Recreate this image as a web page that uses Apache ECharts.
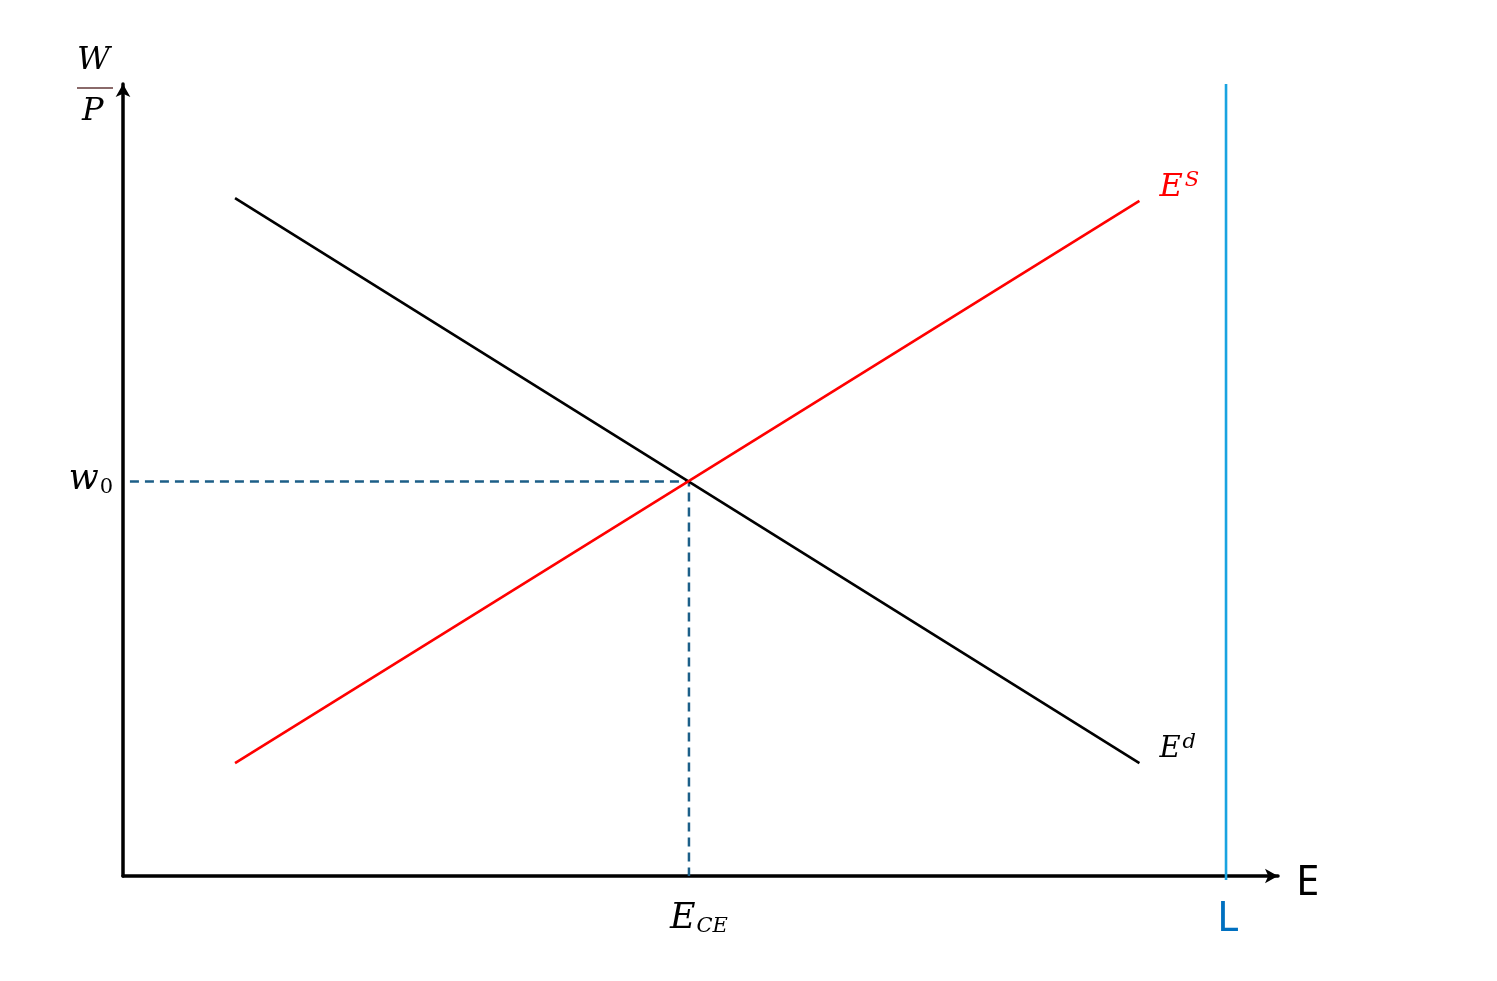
<!DOCTYPE html>
<html><head><meta charset="utf-8">
<script src="https://cdn.jsdelivr.net/npm/echarts@6/dist/echarts.min.js"></script>
<style>html,body{margin:0;padding:0;background:#fff}#c{width:1497px;height:981px}</style>
</head><body><div id="c"></div>
<script>
// Data (x: employment units 0-100, y: real wage units 0-100)
const demandCurve = [[9.7, 85.6], [88, 14.25]];
const supplyCurve = [[9.7, 14.25], [88, 85.25]];
const equilibrium = [49, 49.8];
const laborForce = 95.5;
const guidePath = [[0.6, 49.8], [49, 49.8], [49, 0]];
const laborLine = [[95.5, -0.5], [95.5, 100]];

const serif = 'DejaVu Serif';
const chart = echarts.init(document.getElementById('c'));
chart.setOption({
  animation: false,
  grid: { left: 123, top: 84, width: 1155, height: 792 },
  xAxis: {
    type: 'value', min: 0, max: 100,
    splitLine: { show: false }, axisTick: { show: false }, axisLabel: { show: false },
    axisLine: { lineStyle: { color: '#000', width: 3.5 }, symbol: ['none', 'arrow'], symbolSize: [11, 13] },
    name: 'E', nameLocation: 'end', nameGap: 18,
    nameTextStyle: { fontFamily: 'Noto Sans', fontSize: 42, color: '#000', verticalAlign: 'top', lineHeight: 14 }
  },
  yAxis: {
    type: 'value', min: 0, max: 100,
    splitLine: { show: false }, axisTick: { show: false }, axisLabel: { show: false },
    axisLine: { lineStyle: { color: '#000', width: 3.5 }, symbol: ['none', 'arrow'], symbolSize: [11, 13] }
  },
  graphic: [
    { type: 'text', left: 77, top: 45, style: { text: 'W', font: 'italic 32px "DejaVu Serif"', fill: '#000' } },
    { type: 'line', shape: { x1: 77, y1: 88, x2: 113, y2: 88 }, style: { stroke: '#8a6a6a', lineWidth: 2 } },
    { type: 'text', left: 82, top: 96, style: { text: 'P', font: 'italic 32px "DejaVu Serif"', fill: '#000' } }
  ],
  series: [
    {
      type: 'line', data: guidePath, symbol: 'none', silent: true,
      lineStyle: { color: '#1c5f88', width: 2.5, type: [9, 6] }
    },
    {
      type: 'line', data: demandCurve, symbol: 'none', silent: true,
      lineStyle: { color: '#000', width: 2.6 },
      endLabel: {
        show: true, distance: 20, offset: [0, -14], color: '#000',
        formatter: '{e|E}{s|d}',
        rich: {
          e: { fontFamily: serif, fontStyle: 'italic', fontSize: 29, color: '#000' },
          s: { fontFamily: serif, fontStyle: 'italic', fontSize: 21, color: '#000', verticalAlign: 'top', padding: [0, 0, 14, 2] }
        }
      }
    },
    {
      type: 'line', data: supplyCurve, symbol: 'none', silent: true,
      lineStyle: { color: '#ff0000', width: 2.6 },
      endLabel: {
        show: true, distance: 20, offset: [0, -13], color: '#ff0000',
        formatter: '{e|E}{s|S}',
        rich: {
          e: { fontFamily: serif, fontStyle: 'italic', fontSize: 32, color: '#ff0000' },
          s: { fontFamily: serif, fontStyle: 'italic', fontSize: 21, color: '#ff0000', verticalAlign: 'top', padding: [0, 0, 14, 2] }
        }
      }
    },
    {
      type: 'line', data: laborLine, symbol: 'none', silent: true, clip: false,
      lineStyle: { color: '#19a3e0', width: 2.6 }
    },
    {
      type: 'scatter', symbolSize: 0, silent: true,
      itemStyle: { opacity: 1 },
      data: [
        { value: [0, equilibrium[1]], label: { show: true, position: 'left', distance: 10, offset: [0, -2], formatter: '{w|w}{z|0}' } },
        { value: [equilibrium[0], 0], label: { show: true, position: 'bottom', distance: 24, offset: [10, 0], formatter: '{e|E}{s|CE}' } },
        { value: [laborForce, 0], label: { show: true, position: 'bottom', distance: 22, offset: [2, 0], formatter: '{l|L}' } }
      ],
      label: {
        color: '#000',
        rich: {
          w: { fontFamily: serif, fontStyle: 'italic', fontSize: 35, color: '#000' },
          z: { fontFamily: serif, fontSize: 21, color: '#000', verticalAlign: 'bottom', padding: [16, 0, 0, 1] },
          e: { fontFamily: serif, fontStyle: 'italic', fontSize: 35, color: '#000' },
          s: { fontFamily: serif, fontStyle: 'italic', fontSize: 21, color: '#000', verticalAlign: 'bottom', padding: [16, 0, 0, 1] },
          l: { fontFamily: 'Noto Sans', fontSize: 42, color: '#0070c0' }
        }
      }
    }
  ]
});
</script></body></html>
